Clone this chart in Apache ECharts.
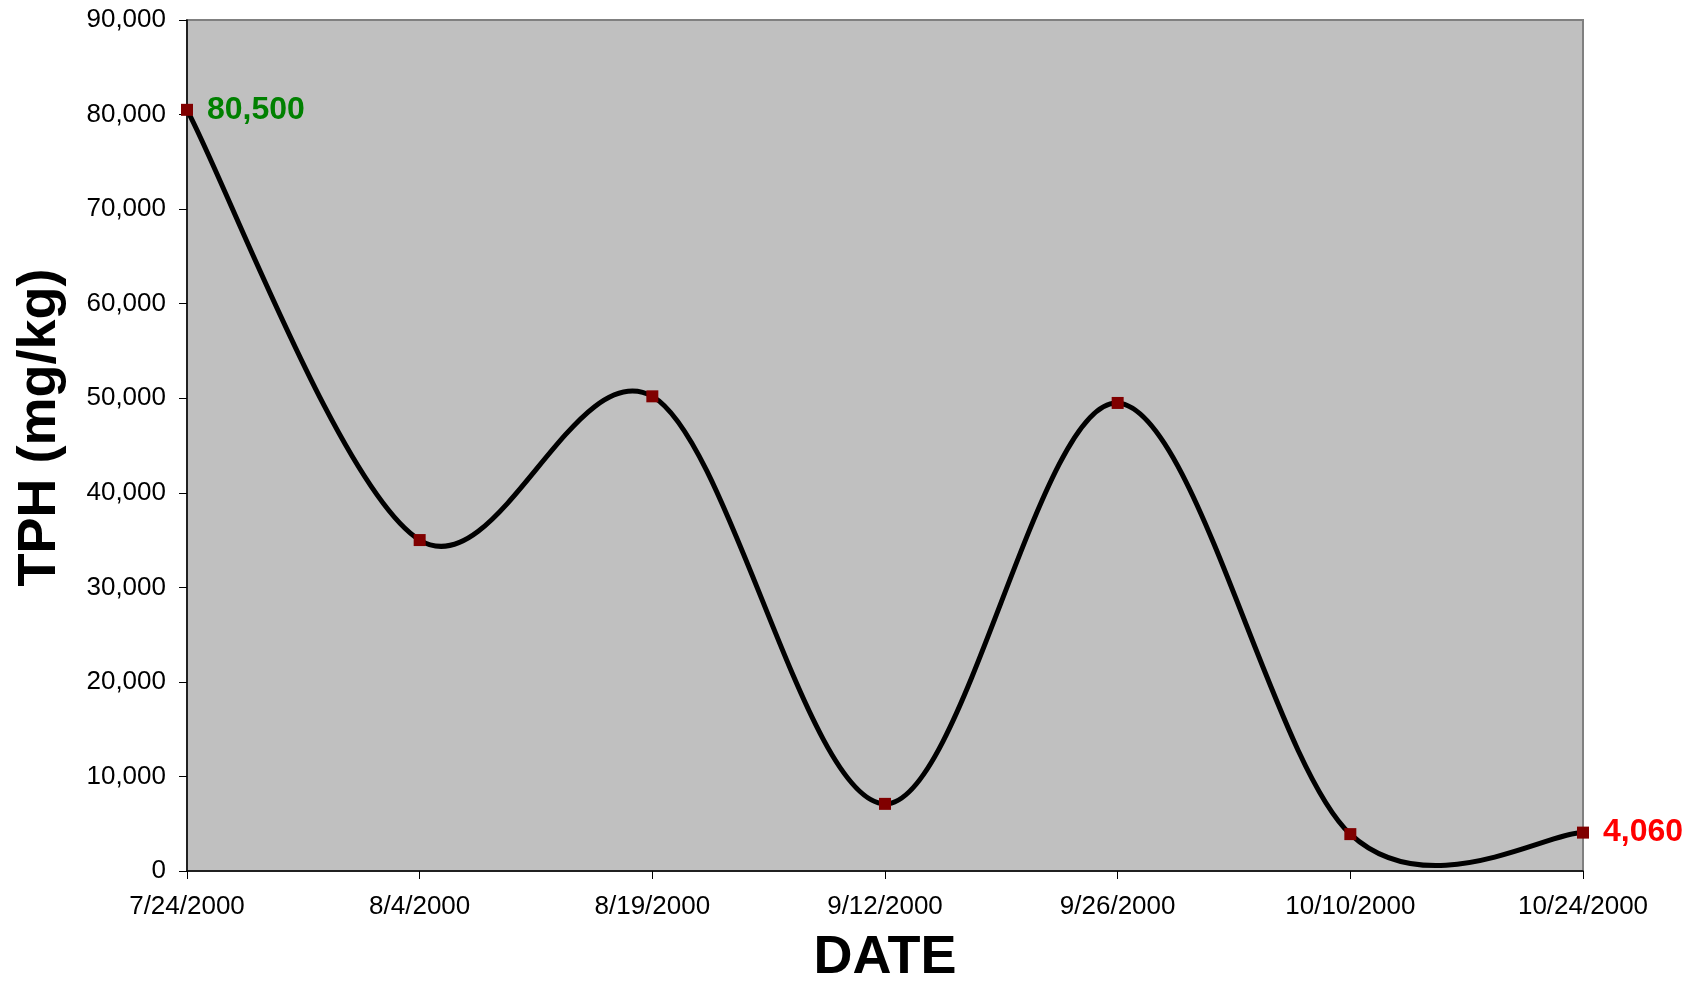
<!DOCTYPE html>
<html>
<head>
<meta charset="utf-8">
<script src="https://cdn.jsdelivr.net/npm/echarts@6/dist/echarts.min.js"></script>
<style>
html,body{margin:0;padding:0;background:#fff;}
#chart{width:1695px;height:982px;}
</style>
</head>
<body>
<div id="chart"></div>
<script>
const dates = ['7/24/2000','8/4/2000','8/19/2000','9/12/2000','9/26/2000','10/10/2000','10/24/2000'];
const tph = [80500, 35000, 50200, 7100, 49500, 3900, 4060];
const yTicks = {min: 0, max: 90000, interval: 10000};
const FONT = '"Liberation Sans", Arial, sans-serif';

const labelFmt = p => Number(p.value).toLocaleString('en-US');
const markerData = tph.map((v, i) => {
  const item = {value: v};
  if (i === 0) {
    item.label = {show: true, position: 'right', distance: 14, color: '#008000', fontSize: 32, fontWeight: 'bold', fontFamily: FONT, formatter: labelFmt};
  } else if (i === tph.length - 1) {
    item.label = {show: true, position: 'right', distance: 14, color: '#FF0000', fontSize: 32, fontWeight: 'bold', fontFamily: FONT, formatter: labelFmt};
  }
  return item;
});

// Excel-style smoothed curve (Catmull-Rom -> cubic Bezier), drawn through the chart's own coordinate system
function renderCurve(params, api) {
  if (params.dataIndex !== 0) return null;
  const pts = tph.map((v, i) => api.coord([i, v]));
  const n = pts.length;
  const children = [];
  for (let i = 0; i < n - 1; i++) {
    const p0 = pts[Math.max(i - 1, 0)];
    const p1 = pts[i];
    const p2 = pts[i + 1];
    const p3 = pts[Math.min(i + 2, n - 1)];
    children.push({
      type: 'bezierCurve',
      shape: {
        x1: p1[0], y1: p1[1],
        cpx1: p1[0] + (p2[0] - p0[0]) / 6, cpy1: p1[1] + (p2[1] - p0[1]) / 6,
        cpx2: p2[0] - (p3[0] - p1[0]) / 6, cpy2: p2[1] - (p3[1] - p1[1]) / 6,
        x2: p2[0], y2: p2[1]
      },
      style: {stroke: '#000', lineWidth: 5, fill: null, lineCap: 'round', lineJoin: 'round'}
    });
  }
  return {type: 'group', children: children};
}

const chart = echarts.init(document.getElementById('chart'), null, {renderer: 'canvas'});
chart.setOption({
  animation: false,
  backgroundColor: '#ffffff',
  grid: {left: 187, right: 112, top: 20, bottom: 111, outerBoundsMode: 'none', containLabel: false,
         show: true, backgroundColor: '#C0C0C0', borderColor: '#808080', borderWidth: 2},
  xAxis: {
    type: 'category',
    data: dates,
    boundaryGap: false,
    name: 'DATE',
    nameLocation: 'middle',
    nameGap: 60,
    nameTextStyle: {fontSize: 54, fontWeight: 'bold', color: '#000', fontFamily: FONT},
    axisLine: {lineStyle: {color: '#000', width: 1.5}},
    axisTick: {show: true, inside: false, length: 8, alignWithLabel: true, lineStyle: {color: '#000'}},
    axisLabel: {fontSize: 26, color: '#000', fontFamily: FONT, margin: 23, interval: 0},
    splitLine: {show: false}
  },
  yAxis: {
    type: 'value',
    min: yTicks.min, max: yTicks.max, interval: yTicks.interval,
    name: 'TPH (mg/kg)',
    nameLocation: 'middle',
    nameGap: 120,
    nameRotate: 90,
    nameTextStyle: {fontSize: 54, fontWeight: 'bold', color: '#000', fontFamily: FONT, padding: [0, 0, 0, 36]},
    axisLine: {show: true, lineStyle: {color: '#000', width: 1.5}},
    axisTick: {show: true, inside: false, length: 8, lineStyle: {color: '#000'}},
    axisLabel: {fontSize: 26, color: '#000', fontFamily: FONT, margin: 21, formatter: v => v.toLocaleString('en-US')},
    splitLine: {show: false}
  },
  series: [{
    type: 'custom',
    data: tph.map((v, i) => [i, v]),
    renderItem: renderCurve,
    clip: false,
    silent: true,
    z: 2
  }, {
    type: 'line',
    data: markerData,
    symbol: 'rect',
    symbolSize: 12,
    itemStyle: {color: '#800000'},
    lineStyle: {width: 0, opacity: 0},
    z: 5
  }]
});
</script>
</body>
</html>
